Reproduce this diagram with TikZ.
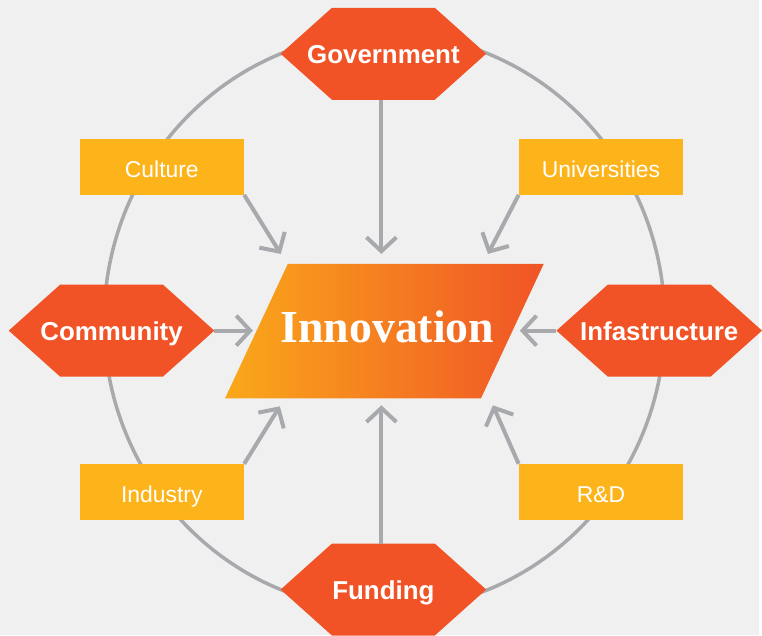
\documentclass[tikz,border=0pt]{standalone}
\usepackage{fontspec}
\setmainfont{Liberation Sans}
\newfontfamily\innofont{Liberation Serif}
\usetikzlibrary{arrows.meta,calc}
\definecolor{bggray}{RGB}{240,240,240}
\definecolor{hexred}{RGB}{241,83,38}
\definecolor{boxyellow}{RGB}{253,180,27}
\definecolor{linegray}{RGB}{167,169,172}
\definecolor{innoleft}{RGB}{250,168,26}
\definecolor{innoright}{RGB}{240,84,38}
\pgfdeclarelayer{back}
\pgfsetlayers{back,main}

\begin{document}
\begin{tikzpicture}[x=1pt,y=-1pt,
        hexnode/.style={minimum width=206pt,minimum height=92pt,inner sep=0pt,text height=20pt,text depth=0pt,text=white,font=\bfseries\fontsize{26}{30}\selectfont},
        smallbox/.style={fill=boxyellow,minimum width=165pt,minimum height=56pt,inner sep=0pt,text height=21.5pt,text depth=0pt,text=white,font=\fontsize{23}{27}\selectfont},
        arr/.style={linegray,line width=4pt,-{Straight Barb[length=14pt,width=30pt]}}]

        \begin{pgfonlayer}{back}
            \fill[bggray] (0,0) rectangle (762,638);
            \draw[linegray,line width=3.5pt] (386,323) ellipse [x radius=281.5,y radius=289.5];
        \end{pgfonlayer}

        % hexagons
        \node[hexnode] (gov) at (385,54) {Government};
        \node[hexnode] (fun) at (385,592) {Funding};
        \node[hexnode] (com) at (112,332) {Community};
        \node[hexnode] (inf) at (662,332) {Infastructure};

        \begin{pgfonlayer}{back}
            \foreach \h in {gov,fun,com,inf}
                \fill[hexred] (\h.west) -- ($(\h.north west)!.25!(\h.north east)$) -- ($(\h.north west)!.75!(\h.north east)$)
                    -- (\h.east) -- ($(\h.south west)!.75!(\h.south east)$) -- ($(\h.south west)!.25!(\h.south east)$) -- cycle;
        \end{pgfonlayer}

        % boxes
        \node[smallbox] (cul) at (162.5,167.5) {Culture};
        \node[smallbox] (uni) at (603.5,167.5) {Universities};
        \node[smallbox] (ind) at (162.5,494) {Industry};
        \node[smallbox] (rnd) at (603.5,494) {R\&D};

        % centre
        \shade[left color=innoleft,right color=innoright] (226,400) -- (289,265) -- (546,265) -- (483,400) -- cycle;
        \node[text=white,font=\innofont\bfseries\fontsize{46}{50}\selectfont] (inno) at (389,328) {Innovation};

        \coordinate (tgov) at (383,255);
        \coordinate (tfun) at (383,407);
        \coordinate (tcom) at (254,332);
        \coordinate (tinf) at (522,332);
        \coordinate (tcul) at (282,255);
        \coordinate (tuni) at (490,255);
        \coordinate (tind) at (281,408);
        \coordinate (trnd) at (495,407);

        \draw[arr] (gov.south -| tgov) -- (tgov);
        \draw[arr] (fun.north -| tfun) -- (tfun);
        \draw[arr] (com) -- (tcom);
        \draw[arr] (inf) -- (tinf);
        \draw[arr] (cul.south east) -- (tcul);
        \draw[arr] (uni.south west) -- (tuni);
        \draw[arr] (ind.north east) -- (tind);
        \draw[arr] (rnd.north west) -- (trnd);

    \end{tikzpicture}
\end{document}
